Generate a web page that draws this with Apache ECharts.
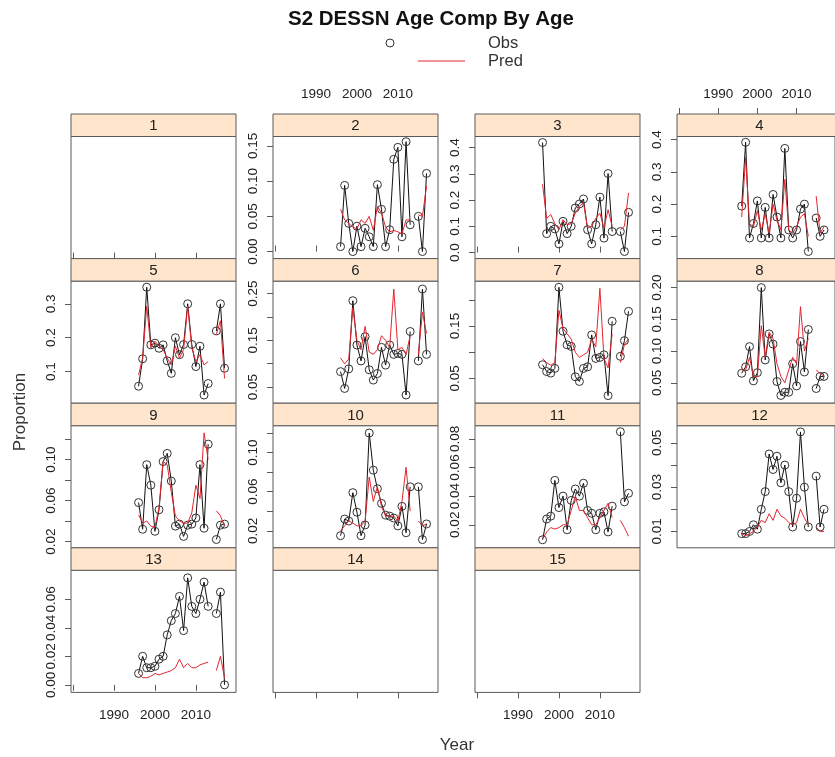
<!DOCTYPE html>
<html><head><meta charset="utf-8">
<script src="https://cdn.jsdelivr.net/npm/echarts@6/dist/echarts.min.js"></script>
<style>html,body{margin:0;padding:0;background:#fff}#c{width:835px;height:757px}</style>
</head><body><div id="c"></div>
<script>
// ---------------- data ----------------
const years = [1996,1997,1998,1999,2000,2001,2002,2003,2004,2005,2006,2007,2008,2009,2010,2011,2012,2013,2014,2015,2016,2017];
const obs2  = [0.007,0.094,0.040,0.000,0.036,0.007,0.033,0.021,0.007,0.095,0.060,0.007,0.031,0.131,0.148,0.021,0.156,0.038,null,0.050,0.000,0.111];
const pred2 = [0.060,0.045,0.040,0.035,0.032,0.045,0.040,0.050,0.030,0.064,0.055,0.035,0.028,0.030,0.028,0.025,0.045,0.045,null,0.052,0.050,0.093];
const obs3  = [0.419,0.072,0.100,0.090,0.033,0.119,0.072,0.100,0.170,0.185,0.204,0.087,0.033,0.106,0.211,0.055,0.301,0.080,null,0.080,0.004,0.153];
const pred3 = [0.260,0.130,0.145,0.110,0.087,0.125,0.106,0.110,0.150,0.176,0.190,0.093,0.100,0.130,0.150,0.093,0.163,0.100,null,0.087,0.100,0.227];
const obs4  = [0.194,0.392,0.095,0.140,0.210,0.095,0.190,0.095,0.230,0.160,0.095,0.373,0.120,0.095,0.120,0.185,0.200,0.053,null,0.157,0.100,0.120];
const pred4 = [0.160,0.345,0.140,0.130,0.180,0.120,0.170,0.110,0.200,0.150,0.120,0.277,0.120,0.110,0.130,0.160,0.170,0.100,null,0.225,0.110,0.130];
const obs5  = [0.057,0.138,0.349,0.179,0.184,0.169,0.179,0.132,0.095,0.200,0.150,0.180,0.300,0.180,0.115,0.175,0.031,0.065,null,0.220,0.300,0.110];
const pred5 = [0.090,0.140,0.293,0.170,0.190,0.175,0.165,0.140,0.120,0.175,0.140,0.165,0.293,0.170,0.130,0.150,0.120,0.130,null,0.210,0.250,0.080];
const obs6  = [0.083,0.047,0.089,0.235,0.140,0.106,0.158,0.087,0.065,0.079,0.135,0.097,0.140,0.120,0.122,0.120,0.033,0.169,null,0.106,0.260,0.120];
const pred6 = [0.112,0.100,0.110,0.220,0.150,0.130,0.180,0.125,0.120,0.130,0.160,0.150,0.135,0.260,0.130,0.135,0.120,0.160,null,0.120,0.210,0.165];
const obs7  = [0.076,0.063,0.060,0.069,0.224,0.140,0.114,0.111,0.053,0.044,0.069,0.072,0.133,0.088,0.090,0.095,0.017,0.159,null,0.092,0.122,0.178];
const pred7 = [0.088,0.080,0.075,0.080,0.180,0.145,0.135,0.125,0.100,0.090,0.095,0.100,0.125,0.110,0.222,0.088,0.070,0.135,null,0.080,0.115,0.125];
const obs8  = [0.065,0.075,0.107,0.053,0.066,0.200,0.086,0.127,0.111,0.052,0.030,0.035,0.035,0.080,0.045,0.115,0.067,0.134,null,0.041,0.060,0.060];
const pred8 = [0.070,0.070,0.090,0.060,0.060,0.140,0.090,0.130,0.120,0.080,0.060,0.050,0.070,0.090,0.080,0.170,0.100,0.120,null,0.070,0.065,0.060];
const obs9  = [0.058,0.032,0.095,0.075,0.030,0.051,0.098,0.106,0.079,0.035,0.037,0.025,0.036,0.037,0.043,0.095,0.033,0.115,null,0.022,0.036,0.037];
const pred9 = [0.046,0.038,0.040,0.035,0.034,0.053,0.098,0.095,0.068,0.045,0.040,0.038,0.038,0.048,0.075,0.062,0.126,0.100,null,0.050,0.045,0.035];
const obs10 = [0.015,0.032,0.030,0.059,0.039,0.015,0.026,0.120,0.082,0.063,0.048,0.036,0.035,0.033,0.025,0.045,0.018,0.065,null,0.065,0.011,0.027];
const pred10= [0.020,0.025,0.030,0.028,0.025,0.025,0.030,0.075,0.050,0.065,0.045,0.035,0.035,0.035,0.030,0.050,0.085,0.040,null,0.030,0.025,0.027];
const obs11 = [0.0095,0.024,0.026,0.051,0.032,0.040,0.0165,0.037,0.045,0.040,0.049,0.030,0.028,0.0165,0.028,0.029,0.015,0.033,null,0.085,0.036,0.042];
const pred11= [0.010,0.015,0.018,0.017,0.018,0.020,0.020,0.030,0.040,0.030,0.030,0.025,0.020,0.020,0.025,0.030,0.035,0.025,null,0.023,0.018,0.012];
const obs12 = [0.009,0.009,0.010,0.013,0.011,0.020,0.028,0.045,0.038,0.044,0.032,0.040,0.028,0.012,0.025,0.055,0.030,0.012,null,0.035,0.012,0.020];
const pred12= [0.009,0.008,0.009,0.010,0.012,0.015,0.014,0.018,0.015,0.020,0.017,0.016,0.014,0.013,0.014,0.020,0.016,0.013,null,0.012,0.010,0.010];
const obs13 = [0.008,0.020,0.012,0.012,0.013,0.018,0.020,0.035,0.045,0.050,0.062,0.038,0.075,0.055,0.050,0.060,0.072,0.055,null,0.050,0.065,0.000];
const pred13= [0.008,0.005,0.005,0.006,0.008,0.007,0.008,0.009,0.010,0.012,0.018,0.012,0.015,0.012,0.012,0.014,0.015,0.016,null,0.010,0.020,0.005];

const obsByPanel  = [null,null,obs2,obs3,obs4,obs5,obs6,obs7,obs8,obs9,obs10,obs11,obs12,obs13,null,null];
const predByPanel = [null,null,pred2,pred3,pred4,pred5,pred6,pred7,pred8,pred9,pred10,pred11,pred12,pred13,null,null];

// axis ranges and tick labels per panel (index = panel number)
const yMins = [null,null,-0.010,-0.023,0.031,0.007,0.0154,0.0025,0.0178,0.0139,0.0026,0.0039,0.0026,-0.0053,null,null];
const yMaxs = [null,null,0.1634,0.442,0.410,0.367,0.277,0.2358,0.2103,0.133,0.1275,0.0892,0.0578,0.0803,null,null];
const yTickVals = [null,null,
  [0,0.05,0.10,0.15],[0,0.1,0.2,0.3,0.4],[0.1,0.2,0.3,0.4],[0.1,0.2,0.3],
  [0.05,0.10,0.15,0.20,0.25],[0.05,0.10,0.15,0.20],[0.05,0.10,0.15,0.20],[0.02,0.04,0.06,0.08,0.10,0.12],
  [0.02,0.04,0.06,0.08,0.10,0.12],[0.02,0.04,0.06,0.08],[0.01,0.02,0.03,0.04,0.05],[0,0.02,0.04,0.06],null,null];
const yLabelVals = [null,null,
  [0,0.05,0.10,0.15],[0,0.1,0.2,0.3,0.4],[0.1,0.2,0.3,0.4],[0.1,0.2,0.3],
  [0.05,0.15,0.25],[0.05,0.15],[0.05,0.10,0.15,0.20],[0.02,0.06,0.10],
  [0.02,0.06,0.10],[0.02,0.04,0.06,0.08],[0.01,0.03,0.05],[0,0.02,0.04,0.06],null,null];
const yDecimals = [0,0,2,1,1,1,2,2,2,2,2,2,2,2,0,0];
const xTickVals = [1980,1990,2000,2010];
const xLabelVals = [1990,2000,2010];
const xMin = 1979.5, xMax = 2019.8;

// ---------------- layout ----------------
const FONT = '"Liberation Sans", Arial, Helvetica, sans-serif';
const colLeft = [71, 273, 475, 677];
const panelW = 165, rowTop0 = 114, rowPitch = 144.6, stripH = 22.5;
const BORDER = '#5a5a5a', TXT = '#222';

const grids = [], xAxes = [], yAxes = [], series = [], graphics = [];
for (let p = 1; p <= 15; p++) {
  const r = Math.floor((p - 1) / 4), c = (p - 1) % 4;
  const top = rowTop0 + r * rowPitch, left = colLeft[c];
  const gi = grids.length;
  grids.push({left: left, top: top + stripH, width: panelW, height: rowPitch - stripH,
    show: true, borderColor: BORDER, borderWidth: 1, backgroundColor: 'transparent', containLabel: false});
  const isTop = r === 0, isBottom = r === 3;
  const showXLab = (isTop && (c === 1 || c === 3)) || (isBottom && (c === 0 || c === 2));
  xAxes.push({gridIndex: gi, type: 'value', min: xMin, max: xMax,
    position: isTop ? 'top' : 'bottom', offset: isTop ? stripH : 0,
    show: isTop || isBottom,
    axisLine: {show: false}, splitLine: {show: false},
    axisTick: {show: true, inside: false, length: 6, customValues: xTickVals, lineStyle: {color: BORDER}},
    axisLabel: {show: showXLab, customValues: xLabelVals, margin: isTop ? 13 : 16, fontSize: 13.5, color: TXT, fontFamily: FONT,
      formatter: v => String(Math.round(v))}});
  const hasData = !!obsByPanel[p];
  const dec = yDecimals[p];
  yAxes.push({gridIndex: gi, type: 'value', min: hasData ? yMins[p] : 0, max: hasData ? yMaxs[p] : 1,
    show: hasData, position: 'left',
    axisLine: {show: false}, splitLine: {show: false},
    axisTick: {show: true, inside: false, length: 6, customValues: yTickVals[p] || [], lineStyle: {color: BORDER}},
    axisLabel: {show: true, rotate: 90, customValues: yLabelVals[p] || [], margin: 13, fontSize: 13.5, color: TXT, fontFamily: FONT,
      formatter: v => Number(v).toFixed(dec)}});
  // strip
  graphics.push({type: 'rect', shape: {x: left, y: top, width: panelW, height: stripH},
    style: {fill: '#FFE5CC', stroke: BORDER, lineWidth: 1}, z: 10});
  graphics.push({type: 'text', x: left + panelW / 2, y: top + stripH / 2 + 1,
    style: {text: String(p), textAlign: 'center', textVerticalAlign: 'middle', fill: TXT, font: '15px ' + FONT}, z: 11});
  if (hasData) {
    const o = obsByPanel[p], pr = predByPanel[p];
    series.push({type: 'line', xAxisIndex: gi, yAxisIndex: gi,
      data: years.map((y, i) => [y, o[i] === null ? '-' : o[i]]),
      symbol: 'circle', symbolSize: 8, showSymbol: true, showAllSymbol: true,
      itemStyle: {color: 'transparent', borderColor: '#333', borderWidth: 1},
      lineStyle: {color: '#111', width: 1}, animation: false, silent: true, z: 2});
    series.push({type: 'line', xAxisIndex: gi, yAxisIndex: gi,
      data: years.map((y, i) => [y, pr[i] === null ? '-' : pr[i]]),
      symbol: 'none', showSymbol: false,
      lineStyle: {color: '#e3262f', width: 1}, animation: false, silent: true, z: 3});
  }
}

// title, legend, axis titles
graphics.push({type: 'text', x: 431, y: 19, style: {text: 'S2 DESSN Age Comp By Age', textAlign: 'center', textVerticalAlign: 'middle', fill: '#111', font: 'bold 20.5px ' + FONT}});
graphics.push({type: 'circle', shape: {cx: 390, cy: 43, r: 4}, style: {fill: 'none', stroke: '#333', lineWidth: 1}});
graphics.push({type: 'line', shape: {x1: 418, y1: 61, x2: 465, y2: 61}, style: {stroke: '#e3262f', lineWidth: 1}});
graphics.push({type: 'text', x: 488, y: 43, style: {text: 'Obs', textAlign: 'left', textVerticalAlign: 'middle', fill: '#333', font: '16.5px ' + FONT}});
graphics.push({type: 'text', x: 488, y: 61, style: {text: 'Pred', textAlign: 'left', textVerticalAlign: 'middle', fill: '#333', font: '16.5px ' + FONT}});
graphics.push({type: 'text', x: 457, y: 745, style: {text: 'Year', textAlign: 'center', textVerticalAlign: 'middle', fill: '#333', font: '17px ' + FONT}});
graphics.push({type: 'text', x: 20, y: 412, rotation: Math.PI / 2, style: {text: 'Proportion', textAlign: 'center', textVerticalAlign: 'middle', fill: '#333', font: '17px ' + FONT}});

const chart = echarts.init(document.getElementById('c'), null, {renderer: 'canvas'});
chart.setOption({animation: false, backgroundColor: '#fff', grid: grids, xAxis: xAxes, yAxis: yAxes, series: series, graphic: graphics});
</script></body></html>
